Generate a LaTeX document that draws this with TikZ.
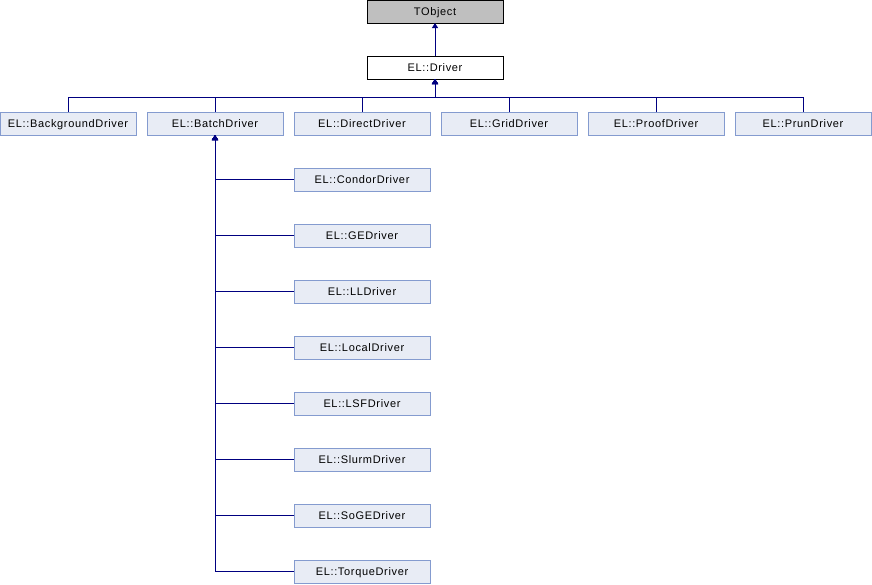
\documentclass[tikz,border=0pt]{standalone}
\usepackage{fontspec}
\setmainfont{Liberation Sans}[LetterSpace=6]
\usetikzlibrary{arrows.meta}
\definecolor{boxfill}{RGB}{232,236,245}
\definecolor{boxedge}{RGB}{132,155,207}
\definecolor{rootfill}{RGB}{191,191,191}
\definecolor{linkcol}{RGB}{0,0,128}
\tikzset{
  cls/.style={draw=boxedge, fill=boxfill, line width=1pt, minimum width=136pt,
    minimum height=23pt, inner sep=0pt, outer sep=0pt, text height=9.5pt, text depth=1.5pt,
    font=\fontsize{11}{13}\selectfont},
  plain/.style={cls, draw=black, fill=white},
  root/.style={cls, draw=black, fill=rootfill},
  inh/.style={draw=linkcol, line width=1pt, -{Triangle[length=5pt,width=6pt]}},
}
\begin{document}
\begin{tikzpicture}[x=1pt,y=-1pt]
\useasboundingbox (0,0) rectangle (872,584);
% base classes
\node[root]  (tobj) at (435,11.5) {TObject};
\node[plain] (drv)  at (435,67.5) {EL::Driver};
% first level of drivers
\node[cls] (bg)    at (68,123.5)  {EL::BackgroundDriver};
\node[cls] (batch) at (215,123.5) {EL::BatchDriver};
\node[cls] (dir)   at (362,123.5) {EL::DirectDriver};
\node[cls] (grid)  at (509,123.5) {EL::GridDriver};
\node[cls] (proof) at (656,123.5) {EL::ProofDriver};
\node[cls] (prun)  at (803,123.5) {EL::PrunDriver};
% batch drivers
\node[cls] (condor) at (362,179.5) {EL::CondorDriver};
\node[cls] (ge)     at (362,235.5) {EL::GEDriver};
\node[cls] (ll)     at (362,291.5) {EL::LLDriver};
\node[cls] (local)  at (362,347.5) {EL::LocalDriver};
\node[cls] (lsf)    at (362,403.5) {EL::LSFDriver};
\node[cls] (slurm)  at (362,459.5) {EL::SlurmDriver};
\node[cls] (soge)   at (362,515.5) {EL::SoGEDriver};
\node[cls] (torque) at (362,571.5) {EL::TorqueDriver};
% inheritance links
\draw[inh] (drv.north) -- (tobj.south);
\coordinate (bus) at (435,97);
\foreach \c in {bg,batch,dir,grid,proof,prun}
  \draw[inh] (\c.north) |- (bus) -- (drv.south);
\foreach \c in {condor,ge,ll,local,lsf,slurm,soge,torque}
  \draw[inh] (\c.west) -| (batch.south);
\end{tikzpicture}
\end{document}
